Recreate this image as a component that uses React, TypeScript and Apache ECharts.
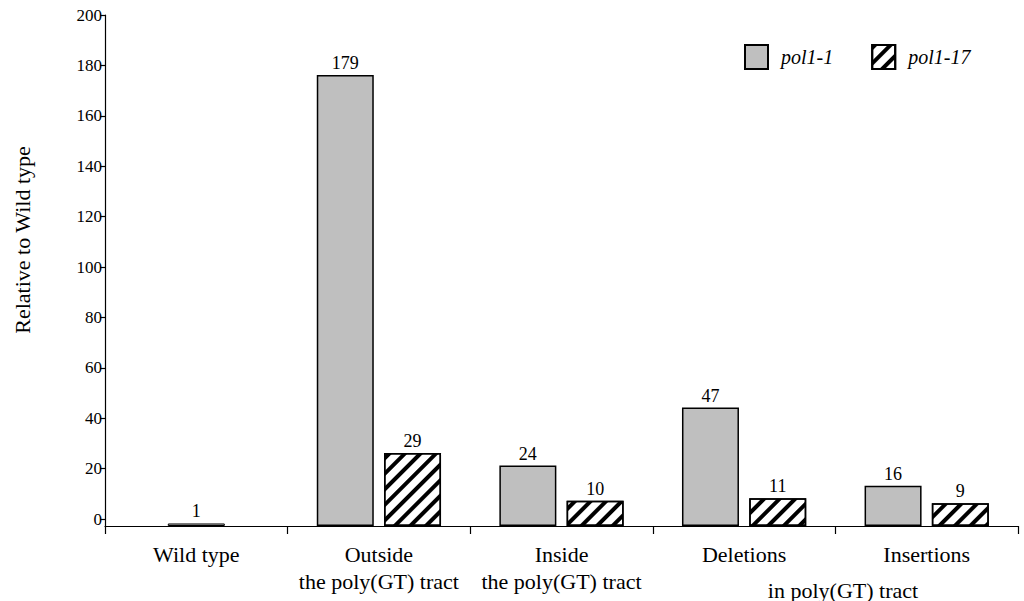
import React, { useEffect, useRef } from "react";
import * as echarts from "echarts";

const categories = [
  "Wild type",
  "Outside\nthe poly(GT) tract",
  "Inside\nthe poly(GT) tract",
  "Deletions",
  "Insertions",
];
const wildTypeValues: (number | string)[] = [1, "-", "-", "-", "-"];
const pol11Values: (number | string)[] = ["-", 179, 24, 47, 16];
const pol117Values: (number | string)[] = ["-", 29, 10, 11, 9];
const seriesNames = ["pol1-1", "pol1-17"];
const yMin = 0;
const yMax = 200;
const yInterval = 20;
const groupNote = "in poly(GT) tract";
const yTitle = "Relative to Wild type";

const FONT = '"Liberation Serif", "Times New Roman", serif';
const GRAY = "#bfbfbf";

export default function App() {
  const ref = useRef<HTMLDivElement>(null);
  useEffect(() => {
    if (!ref.current) return;
    const chart = echarts.init(ref.current, undefined, { renderer: "svg" });
    // bars stand on the x-axis line, which sits a few px below the 0 tick
    const dataMax = (yMax * 511) / 504;
    const hatch = {
      symbol: "rect",
      symbolSize: 1,
      color: "#000",
      backgroundColor: "#fff",
      dashArrayX: [1, 0],
      dashArrayY: [4, 7],
      rotation: -Math.PI / 4,
    };
    const valueLabel = {
      show: true,
      position: "top",
      distance: 3,
      color: "#000",
      fontFamily: FONT,
      fontSize: 18,
    };
    chart.setOption({
      animation: false,
      backgroundColor: "#fff",
      textStyle: { fontFamily: FONT, color: "#000" },
      grid: [
        { left: 105, right: 6, top: 15, height: 504 },
        { left: 105, right: 6, top: 15, height: 511 },
      ],
      legend: {
        data: seriesNames,
        left: 744,
        top: 44,
        padding: 0,
        itemWidth: 23,
        itemHeight: 24,
        itemGap: 38,
        icon: "rect",
        textStyle: {
          fontFamily: FONT,
          fontStyle: "italic",
          fontSize: 20,
          color: "#000",
          padding: [0, 0, 0, 8],
        },
      },
      xAxis: [
        { gridIndex: 0, type: "value", show: false },
        {
          gridIndex: 1,
          type: "category",
          data: categories,
          axisLine: { show: true, lineStyle: { color: "#000", width: 1.2 } },
          axisTick: { show: true, length: 8, lineStyle: { color: "#000", width: 1.2 } },
          axisLabel: {
            color: "#000",
            fontFamily: FONT,
            fontSize: 22,
            lineHeight: 27,
            margin: 15,
            interval: 0,
          },
        },
        {
          gridIndex: 1,
          type: "category",
          data: categories,
          show: false,
        },
      ],
      yAxis: [
        {
          gridIndex: 0,
          type: "value",
          min: yMin,
          max: yMax,
          interval: yInterval,
          axisLine: { show: false },
          axisTick: { show: true, length: 5, lineStyle: { color: "#000", width: 1.2 } },
          axisLabel: { color: "#000", fontFamily: FONT, fontSize: 17, margin: 3 },
          splitLine: { show: false },
        },
        {
          gridIndex: 1,
          type: "value",
          min: 0,
          max: dataMax,
          axisLine: { show: true, lineStyle: { color: "#000", width: 1.2 } },
          axisTick: { show: false },
          axisLabel: { show: false },
          splitLine: { show: false },
        },
      ],
      series: [
        {
          name: "Wild type",
          type: "bar",
          xAxisIndex: 2,
          yAxisIndex: 1,
          data: wildTypeValues,
          barWidth: 57,
          itemStyle: { color: GRAY, borderColor: "#000", borderWidth: 1 },
          label: valueLabel,
        },
        {
          name: seriesNames[0],
          type: "bar",
          xAxisIndex: 1,
          yAxisIndex: 1,
          data: pol11Values,
          barWidth: 57,
          barGap: "18%",
          itemStyle: { color: GRAY, borderColor: "#000", borderWidth: 1.5 },
          label: valueLabel,
        },
        {
          name: seriesNames[1],
          type: "bar",
          xAxisIndex: 1,
          yAxisIndex: 1,
          data: pol117Values,
          barWidth: 57,
          barGap: "18%",
          itemStyle: { color: "#fff", borderColor: "#000", borderWidth: 1.5, decal: hatch },
          label: valueLabel,
        },
      ],
      graphic: [
        {
          type: "text",
          x: 843,
          y: 590,
          style: {
            text: groupNote,
            fontFamily: FONT,
            fontSize: 22,
            fill: "#000",
            textAlign: "center",
            textVerticalAlign: "middle",
          },
        },
        {
          type: "text",
          x: 22,
          y: 240,
          rotation: Math.PI / 2,
          style: {
            text: yTitle,
            fontFamily: FONT,
            fontSize: 22,
            fill: "#000",
            textAlign: "center",
            textVerticalAlign: "middle",
          },
        },
      ],
    });
    return () => chart.dispose();
  }, []);
  return (
    <div
      ref={ref}
      style={{ position: "fixed", left: 0, top: 0, width: 1024, height: 601, background: "#fff" }}
    />
  );
}
